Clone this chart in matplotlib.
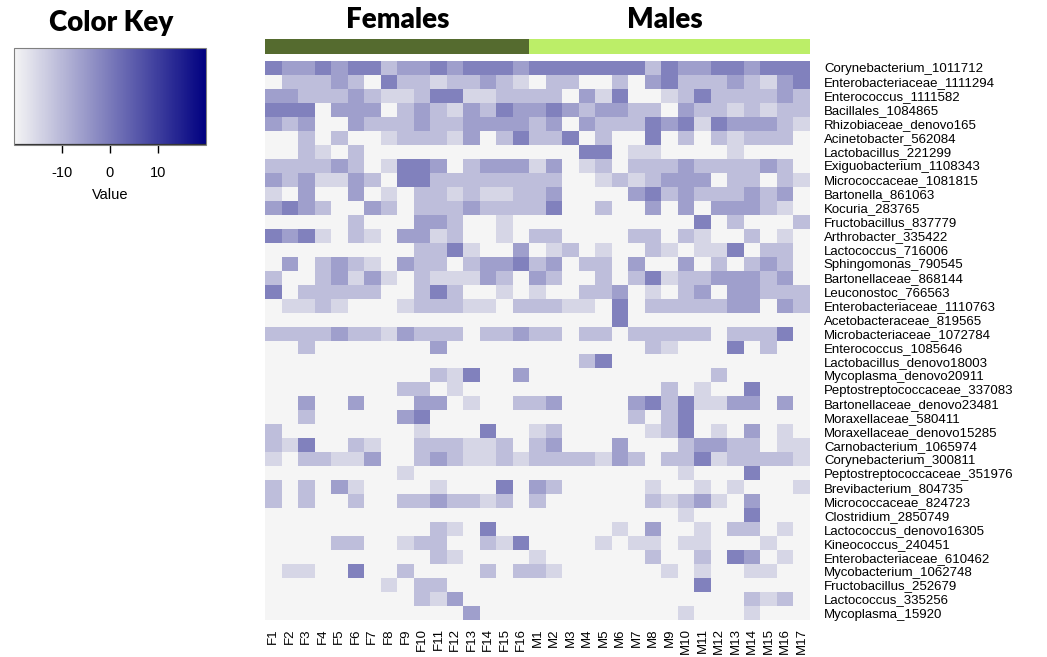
import numpy as np
import matplotlib.pyplot as plt
from matplotlib.colors import LinearSegmentedColormap, ListedColormap

plt.rcParams["axes.unicode_minus"] = False

otus = ["Corynebacterium_1011712", "Enterobacteriaceae_1111294", "Enterococcus_1111582",
        "Bacillales_1084865", "Rhizobiaceae_denovo165", "Acinetobacter_562084",
        "Lactobacillus_221299", "Exiguobacterium_1108343", "Micrococcaceae_1081815",
        "Bartonella_861063", "Kocuria_283765", "Fructobacillus_837779",
        "Arthrobacter_335422", "Lactococcus_716006", "Sphingomonas_790545",
        "Bartonellaceae_868144", "Leuconostoc_766563", "Enterobacteriaceae_1110763",
        "Acetobacteraceae_819565", "Microbacteriaceae_1072784", "Enterococcus_1085646",
        "Lactobacillus_denovo18003", "Mycoplasma_denovo20911", "Peptostreptococcaceae_337083",
        "Bartonellaceae_denovo23481", "Moraxellaceae_580411", "Moraxellaceae_denovo15285",
        "Carnobacterium_1065974", "Corynebacterium_300811", "Peptostreptococcaceae_351976",
        "Brevibacterium_804735", "Micrococcaceae_824723", "Clostridium_2850749",
        "Lactococcus_denovo16305", "Kineococcus_240451", "Enterobacteriaceae_610462",
        "Mycobacterium_1062748", "Fructobacillus_252679", "Lactococcus_335256",
        "Mycoplasma_15920"]

females = ["F1", "F2", "F3", "F4", "F5", "F6", "F7", "F8", "F9", "F10", "F11", "F12",
           "F13", "F14", "F15", "F16"]
males = ["M1", "M2", "M3", "M4", "M5", "M6", "M7", "M8", "M9", "M10", "M11", "M12",
         "M13", "M14", "M15", "M16", "M17"]

# shade of each cell: 0 = empty ... 4 = darkest
female_cells = [
    "4334344233434443", "0222320422122321", "3322232112441122", "4440333023213243",
    "3230032223223333", "0020200122213024", "0021020000000000", "2222320144302333",
    "3231132044222222", "1030030102212112", "3432003202223222", "0000020003320010",
    "4341021033120010", "0000000002241003", "0302321032202334", "2002313102111320",
    "4022222002420010", "0112100012221102", "0000000000000000", "2222322132220223",
    "0020000000300000", "0000000000000000", "0000000000214003", "0000000022010000",
    "0030030003301002", "0020000034000000", "2000000001000400", "2140021002221120",
    "1022113002321121", "0000000010000000", "2020310000100040", "2020020022322120",
    "0000000000000000", "0000000000210400", "0000220012200214", "0000000000210000",
    "0110040020000202", "0000000102200000", "0000000002130000", "0000000000003000",
]
male_cells = [
    "44444442433443444", "02200203422232134", "22031400124222232", "34323322032212122",
    "23032224341433321", "22402004020212220", "00044011000010000", "13012022232222320",
    "22001212333022021", "23000034232223230", "24002003030333210", "00000000004020002",
    "22000022021002010", "01201002101140220", "23022030030202320", "32002024122333230",
    "10022301023033222", "22110402222233032", "00000400000000000", "22022022222022240",
    "00000002100040200", "00024000000000000", "00000000000200000", "00000000201004000",
    "23000034241133030", "00000020240000000", "12000001240103010", "23000300023322011",
    "22221320224122221", "00000000010004000", "32000001001010001", "20000002123103000",
    "00000000010004000", "00000103001022010", "00001011011000100", "10000002002043010",
    "21000000101001100", "00000000004000000", "00000000000002120", "00000000010001000",
]
level_value = [-20, -15, -11, -6, -1]

matrix = np.array([[level_value[int(c)] for c in f + m]
                   for f, m in zip(female_cells, male_cells)])
samples = females + males
sex = [0] * len(females) + [1] * len(males)

W, H = 1047, 657
fig = plt.figure(figsize=(W / 100, H / 100), dpi=100)
cmap = LinearSegmentedColormap.from_list("key", ["whitesmoke", "navy"])

# main heatmap
ax = fig.add_axes([265 / W, 1 - 620 / H, 545 / W, 559 / H])
mesh = ax.pcolormesh(matrix, cmap=cmap, vmin=-20, vmax=20)
ax.set_xlim(0, len(samples))
ax.set_ylim(len(otus), 0)
ax.set_yticks(np.arange(len(otus)) + 0.5)
ax.set_yticklabels(otus, fontsize=9.5, family="Liberation Sans")
ax.yaxis.tick_right()
ax.set_xticks(np.arange(len(samples)) + 0.5)
ax.set_xticklabels(samples, rotation=90, fontsize=9.5, family="Liberation Sans")
ax.tick_params(length=0, pad=10)
ax.tick_params(axis="x", pad=6)
for s in ax.spines.values():
    s.set_visible(False)

# sex strip on top
strip = fig.add_axes([265 / W, 1 - 54 / H, 545 / W, 15 / H])
strip.pcolormesh([sex], cmap=ListedColormap(["#556B2F", "#BCEE68"]), vmin=0, vmax=1)
strip.set_xlim(0, len(samples))
strip.axis("off")
fig.text(398 / W, 1 - 20 / H, "Females", ha="center", va="center",
         fontsize=20, weight="heavy", family="Lato")
fig.text(665 / W, 1 - 20 / H, "Males", ha="center", va="center",
         fontsize=20, weight="heavy", family="Lato")

# colour key
fig.text(111 / W, 1 - 23 / H, "Color Key", ha="center", va="center",
         fontsize=20, weight="heavy", family="Lato")
cax = fig.add_axes([14 / W, 1 - 145 / H, 192 / W, 97 / H])
cbar = fig.colorbar(mesh, cax=cax, orientation="horizontal", ticks=[-10, 0, 10])
cbar.outline.set_edgecolor("#808080")
cax.axhline(cax.get_ylim()[0], color="#333333", lw=1.6)
cax.tick_params(labelsize=10.5, length=6, width=1, pad=9)
for t in cax.get_xticklabels():
    t.set_family("Liberation Sans")
cbar.set_label("Value", fontsize=10.5, family="Liberation Sans", labelpad=6)

fig.savefig("out.png", dpi=100)
